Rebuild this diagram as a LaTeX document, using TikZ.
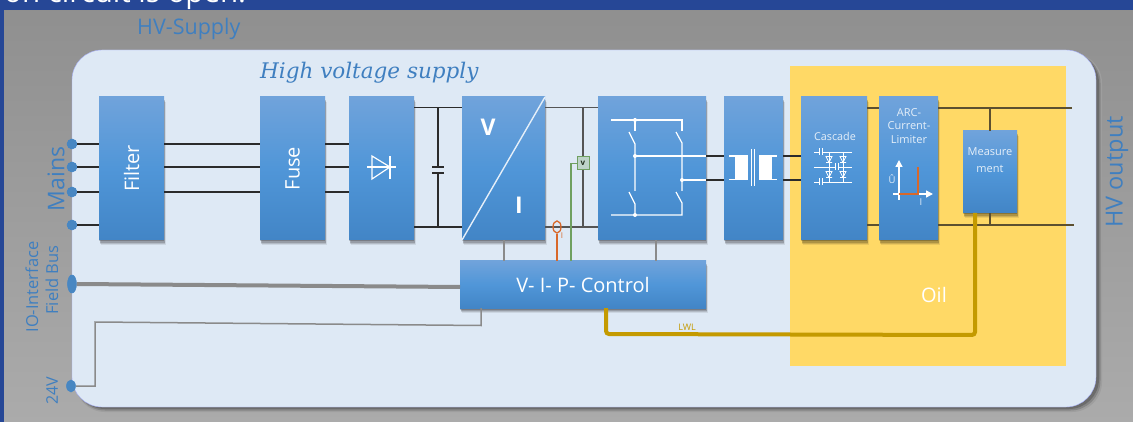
\documentclass[tikz,border=0pt]{standalone}
\usepackage{fontspec}
\setmainfont{Open Sans}
\newfontfamily\handfont{DejaVu Serif}[ItalicFont=* Italic]
\usetikzlibrary{shadows,arrows.meta,calc,shapes.geometric}
\definecolor{bandblue}{HTML}{264796}
\definecolor{panelblue}{HTML}{DEE9F5}
\definecolor{oilyellow}{HTML}{FFD966}
\definecolor{lblblue}{HTML}{3F7FC0}
\definecolor{boxtop}{HTML}{70A3DB}
\definecolor{boxmid}{HTML}{5096D8}
\definecolor{boxbot}{HTML}{4285C6}
\definecolor{gold}{HTML}{C49A00}
\definecolor{wire}{HTML}{2B2B2B}
\definecolor{oilwire}{HTML}{5C5030}
\definecolor{ctrlgray}{HTML}{8A8A8A}
\definecolor{orangew}{HTML}{D8682A}
\definecolor{greenw}{HTML}{6FA060}
\newcommand{\fsz}[1]{\fontsize{#1pt}{#1pt}\selectfont}
\tikzset{
  bx/.style={rectangle,inner sep=0pt,outer sep=0pt,draw=none,
    top color=boxtop,bottom color=boxbot,middle color=boxmid,text=white,align=center,
    general shadow={fill=black,opacity=.08,shadow xshift=1.5pt,shadow yshift=-5pt},
    general shadow={fill=black,opacity=.12,shadow xshift=1pt,shadow yshift=-4pt},
    general shadow={fill=black,opacity=.16,shadow xshift=.5pt,shadow yshift=-3pt},
    general shadow={fill=black,opacity=.2,shadow xshift=.3pt,shadow yshift=-1.5pt}},
  term/.style={ellipse,fill=boxmid!90!black,draw=boxbot,line width=.5pt,inner sep=0pt},
  ln/.style={wire,line width=1.5pt},
  oln/.style={oilwire,line width=1.8pt},
  wh/.style={white,line width=1.2pt},
  lbl/.style={text=lblblue,inner sep=0pt,align=center},
}
\begin{document}
\begin{tikzpicture}[x=1pt,y=-1pt]
\useasboundingbox (0,0) rectangle (1133,422);
% background
\fill[top color=black!44,bottom color=black!33] (0,0) rectangle (1133,422);
\fill[bandblue] (0,0) rectangle (1133,10);
\fill[bandblue] (0,0) rectangle (4,422);
\begin{scope}
\clip (0,0) rectangle (1133,10);
\node[text=white,anchor=base west,inner sep=0pt] (headline) at (4,3) {\fsz{29.5}on circuit is open.};
\end{scope}
% panel
\fill[black!38,rounded corners=30pt] (75,53) rectangle (1102,412);
\fill[black!48,rounded corners=30pt] (75,53) rectangle (1100.5,410.5);
\fill[black!58,rounded corners=30pt] (75,53) rectangle (1099,409);
\fill[panelblue,rounded corners=30pt,draw=blue!25!panelblue] (72,50) rectangle (1096,407);
\fill[oilyellow] (790,66) rectangle (1066,366);
% labels
\node[lbl,anchor=west] (hvsupply) at (137,29) {\fsz{21.5}HV-Supply};
\node[lbl,anchor=west] (hvtitle) at (260,73) {\handfont\itshape\fsz{21.5}High voltage supply};
\node[lbl,rotate=90] (mains) at (56,179) {\fsz{23}Mains};
\node[lbl,rotate=90] (iolabel) at (32,287) {\fsz{16.5}IO-Interface};
\node[lbl,rotate=90] (fieldbus) at (52,280) {\fsz{16.5}Field Bus};
\node[lbl,rotate=90] (v24) at (52,391) {\fsz{16}24V};
\node[lbl,rotate=90] (hvout) at (1117,172) {\fsz{23.5}HV output};
\node[text=white,inner sep=0pt] (oil) at (934,295) {\fsz{20}Oil};
% boxes
\node[bx,minimum width=65pt,minimum height=143pt] (filter) at (131.5,168.5) {};
\node[text=white,rotate=90,inner sep=0pt] (filtert) at (filter.center) {\fsz{20}Filter};
\node[bx,minimum width=65pt,minimum height=143pt] (fuse) at (292.5,168.5) {};
\node[text=white,rotate=90,inner sep=0pt] (fuset) at (fuse.center) {\fsz{20}Fuse};
\node[bx,minimum width=65pt,minimum height=143pt] (rect) at (381.5,168.5) {};
\node[bx,minimum width=83pt,minimum height=143pt] (vi) at (503.5,168.5) {};
\node[bx,minimum width=108pt,minimum height=143pt] (bridge) at (652,168.5) {};
\node[bx,minimum width=59pt,minimum height=143pt] (trafo) at (753.5,168.5) {};
\node[bx,minimum width=66pt,minimum height=143pt] (cascade) at (834,168.5) {};
\node[bx,minimum width=59pt,minimum height=143pt] (arc) at (908.5,168.5) {};
\node[bx,minimum width=54pt,minimum height=82pt] (meas) at (990,172) {};
\node[bx,minimum width=246pt,minimum height=47pt] (ctrl) at (583,284.5) {\fsz{20}V- I- P- Control};
% terminals
\node[term,minimum width=10pt,minimum height=10pt] (t1) at (72,144) {};
\node[term,minimum width=10pt,minimum height=10pt] (t2) at (72,167) {};
\node[term,minimum width=10pt,minimum height=10pt] (t3) at (72,192) {};
\node[term,minimum width=10pt,minimum height=10pt] (t4) at (72,225) {};
\node[term,minimum width=9pt,minimum height=18pt] (tbus) at (72,284) {};
\node[term,minimum width=9pt,minimum height=12pt] (t24) at (71,386) {};
% mains wires
\foreach \t in {t1,t2,t3}{
  \draw[ln] (\t.east) -- (\t -| filter.west);
  \draw[ln] (filter.east |- \t) -- (\t -| fuse.west);
  \draw[ln] (fuse.east |- \t) -- (\t -| rect.west);
}
\draw[ln] (t4.east) -- (t4 -| filter.west);
% DC link
\coordinate (dctop) at (0,107.5);
\coordinate (dcbot) at (0,227);
\coordinate (capx) at (438,0);
\node[rectangle,inner sep=0pt,minimum width=0pt,minimum height=0pt] (capu) at (438,167) {};
\node[rectangle,inner sep=0pt,minimum width=0pt,minimum height=0pt] (capl) at (438,173) {};
\draw[ln] (rect.east |- dctop) -- (dctop -| vi.west);
\draw[ln] (rect.east |- dcbot) -- (dcbot -| vi.west);
\draw[ln] (capx |- dctop) -- (capu.center);
\draw[ln] (capx |- dcbot) -- (capl.center);
\draw[ln] ([xshift=-6pt]capu.center) -- ([xshift=6pt]capu.center);
\draw[ln] ([xshift=-6pt]capl.center) -- ([xshift=6pt]capl.center);
% V/I to bridge
\draw[ln,wire!80!white] (vi.east |- dctop) -- (dctop -| bridge.west);
\draw[ln,wire!80!white] (vi.east |- dcbot) -- (dcbot -| bridge.west);
\node[draw=greenw,fill=panelblue!70!greenw,line width=1pt,minimum width=12pt,minimum height=13pt,inner sep=0pt,text=black!70!greenw] (vm) at (583,163.5) {\fsz{8}\bfseries v};
\draw[ln,wire!80!white] (583,107.5) -- (vm.north);
\draw[ln,wire!80!white] (vm.south) -- (583,227);
\coordinate (ctrlg) at (571,0);
\draw[greenw,line width=1.2pt] (vm.west) -| (ctrlg |- ctrl.north);
\node[ellipse,draw=orangew,line width=1.3pt,fill=none,minimum width=8pt,minimum height=12pt,inner sep=0pt] (im) at (557,227) {};
\draw[orangew,line width=1.3pt] (im.south) -- (im.south |- ctrl.north);
\node[text=orangew,inner sep=0pt] (imt) at (562,236) {\fsz{8}I};
\coordinate (gv) at (504,0);
\coordinate (gb) at (656,0);
\draw[ctrlgray,line width=1.3pt] (gv |- vi.south) -- (gv |- ctrl.north);
\draw[ctrlgray,line width=1.3pt] (gb |- bridge.south) -- (gb |- ctrl.north);
% V/I symbol
\draw[white!85!boxmid,line width=1.4pt] (vi.south west) -- (vi.north east);
\node[text=white,inner sep=0pt] (vit) at (488,127) {\fsz{23}\bfseries V};
\node[text=white,inner sep=0pt] (iit) at (519,205) {\fsz{23}\bfseries I};
% rectifier diode
\draw[wh] (367,167) -- (396,167);
\draw[wh] (372,156) -- (372,179) -- (390,167) -- cycle;
\draw[wh] (390,156) -- (390,179);
% bridge symbol
\draw[wh] (611,120) -- (682,120) -- (682,131);
\draw[wh] (635,118) -- (635,131);
\draw[wh] (629,132) -- (635,144) -- (635,191);
\draw[wh] (629,192) -- (635,204) -- (635,215);
\draw[wh] (611,215) -- (682,215) -- (682,203) -- (676,192);
\draw[wh] (676,132) -- (682,143) -- (682,191);
\coordinate (s1) at (0,156);
\coordinate (s2) at (0,180);
\draw[wh] (635,156) -- (s1 -| bridge.east);
\draw[wh] (682,180) -- (s2 -| bridge.east);
\foreach \p in {(635,120),(635,156),(682,180),(635,215)}{\fill[white] \p circle (2pt);}
% bridge - trafo - cascade wires
\draw[ln] (bridge.east |- s1) -- (s1 -| trafo.west);
\draw[ln] (bridge.east |- s2) -- (s2 -| trafo.west);
\draw[ln] (trafo.east |- s1) -- (s1 -| cascade.west);
\draw[ln] (trafo.east |- s2) -- (s2 -| cascade.west);
% transformer symbol
\fill[white] (735,156) rectangle (748,179.5);
\fill[white] (759,156) rectangle (772,179.5);
\draw[wh] (729,156) -- (748,156) (729,179.5) -- (748,179.5);
\draw[wh] (759,156) -- (777,156) (759,179.5) -- (777,179.5);
\draw[wh] (751.5,149) -- (751.5,186) (754.5,149) -- (754.5,186);
% cascade
\node[text=white!85!boxmid,inner sep=0pt] (casct) at (835,136) {\fsz{10.8}Cascade};
\draw[white,line width=.9pt] (814,152) -- (852,152) (814,167) -- (852,167) (814,182) -- (852,182)
  (829,152) -- (829,182) (843,152) -- (843,182);
\foreach \c/\r in {821/152,821/182,837/167}{
  \fill[boxmid] (\c-1.5,\r-3) rectangle (\c+1.5,\r+3);
  \draw[white,line width=.8pt] (\c-1.5,\r-3.5) -- (\c-1.5,\r+3.5) (\c+1.5,\r-3.5) -- (\c+1.5,\r+3.5);
}
\foreach \c/\r in {829/159.5,843/159.5,829/174.5,843/174.5}{
  \draw[white,line width=.8pt] (\c-3,\r-3) -- (\c+3,\r-3) -- (\c,\r+3) -- cycle (\c-3,\r+3) -- (\c+3,\r+3);
}
% ARC
\node[text=white!85!boxmid,inner sep=0pt,align=center] (arct) at (909,126) {\fsz{11}ARC-\\[1.5pt]\fsz{11}Current-\\[1.5pt]\fsz{11}Limiter};
\draw[white,line width=1.4pt,-{Triangle[length=7pt,width=7pt]}] (899,200) -- (899,160);
\draw[white,line width=1.4pt,-{Triangle[length=7pt,width=7pt]}] (893,194) -- (933,194);
\draw[orangew,line width=1.2pt] (899,194) -- (918,194) -- (918,167);
\node[text=white!85!boxmid,inner sep=0pt] (ut) at (892,179) {\fsz{9.5}Û};
\node[text=white!85!boxmid,inner sep=0pt] (it) at (921,202) {\fsz{9.5}I};
% measurement
\node[text=white!85!boxmid,inner sep=0pt,align=center] (meast) at (990,160) {\fsz{11}Measure\\[4.5pt]\fsz{11}ment};
% HV wires
\coordinate (hv1) at (1072,108);
\coordinate (hv2) at (1074,225);
\draw[oln] (cascade.east |- hv1) -- (hv1 -| arc.west);
\draw[oln] (cascade.east |- hv2) -- (hv2 -| arc.west);
\draw[oln] (arc.east |- hv1) -- (hv1);
\draw[oln] (arc.east |- hv2) -- (hv2);
\draw[oln] (meas.north |- hv1) -- (meas.north);
\draw[oln] (meas.south) -- (meas.south |- hv2);
% control wires
\draw[ctrlgray,line width=4pt] (tbus.east) -- (460,287);
\coordinate (c24) at (481,0);
\draw[ctrlgray,line width=1.5pt] (t24.east) -- (95,386) -- (95,322) -- (481,325.5) -- (c24 |- ctrl.south);
\coordinate (lwla) at (606,0);
\coordinate (lwlb) at (975,0);
\draw[gold,line width=4pt,rounded corners=3pt] (lwla |- ctrl.south) -- (606,334) -- (975,335) -- (lwlb |- meas.south);
\node[text=gold,inner sep=0pt] (lwl) at (687,327) {\fsz{9}LWL};
\end{tikzpicture}
\end{document}
